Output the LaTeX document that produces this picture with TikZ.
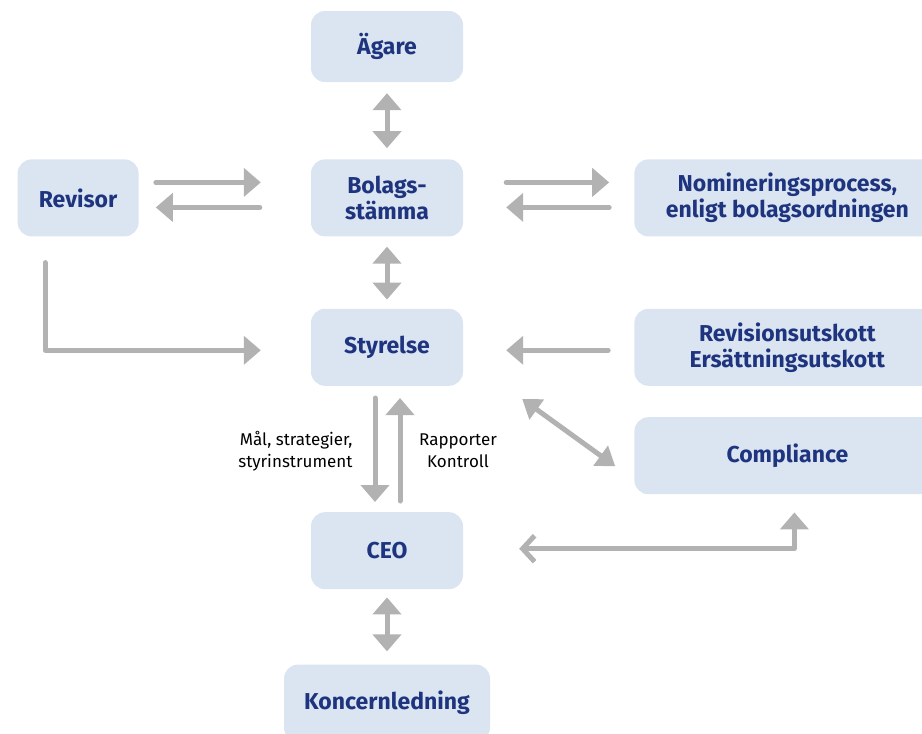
\documentclass[tikz,border=0pt]{standalone}
\usepackage{fontspec}
\setmainfont{Fira Sans}
\usetikzlibrary{arrows.meta,positioning}
\definecolor{boxblue}{RGB}{218,229,241}
\definecolor{navy}{RGB}{30,52,126}
\definecolor{arrowgray}{RGB}{178,178,178}

\begin{document}
\begin{tikzpicture}[x=1pt, y=-1pt, >={Triangle[width=28pt,length=17pt]},
    main/.style={fill=boxblue, rounded corners=14pt, minimum width=152pt, minimum height=77pt, align=center, text=navy, font=\fontsize{23}{26}\selectfont\bfseries},
    arr/.style={draw=arrowgray, line width=5pt, line cap=round, line join=round, ->},
    dbl/.style={arr, <->},
    lbl/.style={font=\fontsize{17}{22}\selectfont, text=black}]
		\clip (0,0) rectangle (922,734);

		\node[main, minimum height=71pt] (agare) at (387,46.5) {Ägare};
		\node[main] (stamma) [below=77pt of agare] {Bolags-\\stämma};
		\node[main] (styrelse) [below=72pt of stamma] {Styrelse};
		\node[main] (ceo) [below=126pt of styrelse] {CEO};
		\node[main, minimum width=206pt] (koncern) [below=75pt of ceo] {Koncernledning};
		\node[main, minimum width=121pt] (revisor) [left=172pt of stamma] {Revisor};
		\node[main, minimum width=306pt] (nominering) [right=171pt of stamma] {Nomineringsprocess,\\enligt bolagsordningen};
		\node[main, minimum width=306pt] (utskott) [right=171pt of styrelse] {Revisionsutskott\\Ersättningsutskott};
		\node[main, minimum width=306pt] (compliance) [below=31pt of utskott] {Compliance};

		\node[lbl, align=right, anchor=east] (mal) at (356,451) {Mål, strategier,\\styrinstrument};
		\node[lbl, align=center] (rapport) at (458,451) {Rapporter\\Kontroll};

		\draw[dbl, shorten <=11pt, shorten >=11pt] (agare) -- (stamma);
		\draw[arr, shorten <=17pt, shorten >=50pt] ([yshift=15.5pt]revisor.east) -- ([yshift=15.5pt]stamma.west);
		\draw[arr, shorten <=51pt, shorten >=17pt] ([yshift=-9.5pt]stamma.west) -- ([yshift=-9.5pt]revisor.east);
		\draw[arr, shorten <=43pt, shorten >=25pt] ([yshift=15.5pt]stamma.east) -- ([yshift=15.5pt]nominering.west);
		\draw[arr, shorten <=25pt, shorten >=43pt] ([yshift=-9.5pt]nominering.west) -- ([yshift=-9.5pt]stamma.east);
		\draw[dbl, shorten <=10pt, shorten >=9pt] (stamma) -- (styrelse);
		\draw[arr, shorten <=26pt, shorten >=50pt] ([xshift=-33pt]revisor.south) |- ([yshift=-3pt]styrelse.west);
		\draw[arr, shorten <=26pt, shorten >=43pt] ([yshift=-3pt]utskott.west) -- ([yshift=-3pt]styrelse.east);
		\draw[arr, shorten <=12pt, shorten >=10pt] ([xshift=-12pt]styrelse.south) -- ([xshift=-12pt]ceo.north);
		\draw[arr, shorten <=11pt, shorten >=12pt] ([xshift=13pt]ceo.north) -- ([xshift=13pt]styrelse.south);
		\draw[arr, <->, >={Triangle[width=24pt,length=18pt]}] ([shift={(59pt,-13pt)}]styrelse.south east) -- ([shift={(-19pt,-10.5pt)}]compliance.west);
		\draw[arr, arrows={Straight Barb[width=26pt,length=12pt]->}, shorten <=56pt, shorten >=18pt] ([yshift=2pt]ceo.east) -| ([xshift=7pt]compliance.south);
		\draw[dbl, shorten <=8pt, shorten >=13pt] (ceo) -- (koncern);
	\end{tikzpicture}
\end{document}
